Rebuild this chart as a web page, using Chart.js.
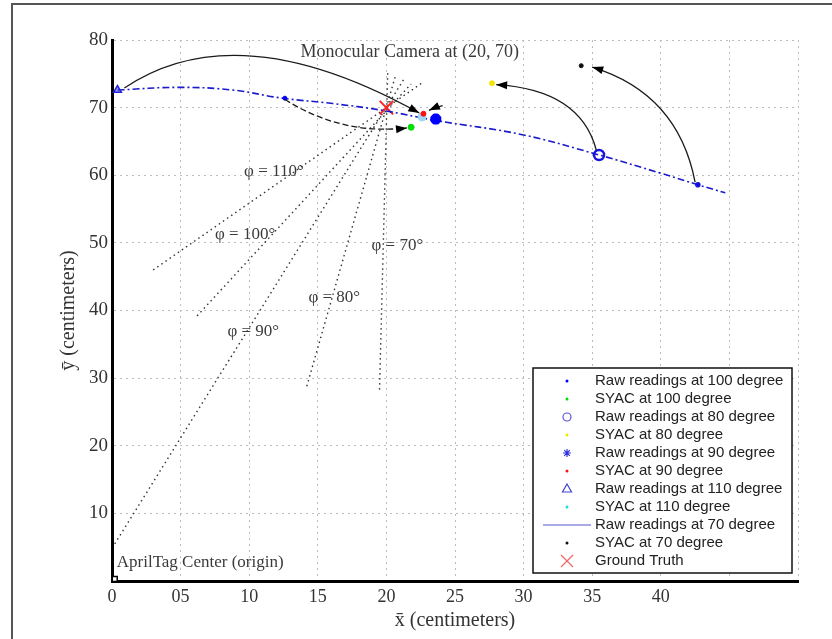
<!DOCTYPE html>
<html lang="en">
<head>
<meta charset="UTF-8">
<title>SYAC readings vs ground truth</title>
<script src="https://cdn.jsdelivr.net/npm/chart.js"></script>
<style>
  body { margin: 0; background: #fff; }
  canvas { display: block; }
</style>
</head>
<body>
<canvas id="syacChart" width="832" height="639"></canvas>
<script>
// readings in centimeters
const raw100 = [[12.6, 71.4]];
const syac100 = [[21.8, 67.1]];
const raw80 = [[35.5, 63.0]];
const syac80 = [[27.7, 73.6]];
const raw90 = [[23.6, 68.3]];
const syac90 = [[22.7, 69.1]];
const raw110 = [[0.4, 72.6]];
const syac110 = [[22.6, 68.6]];
const raw70X = [0.4, 4.9, 8.8, 12.4, 16.1, 19.7, 23.6, 29.9, 35.5, 40.0, 42.7, 44.7];
const raw70Y = [72.6, 73.0, 72.6, 71.4, 70.6, 69.6, 68.1, 66.0, 63.0, 60.3, 58.6, 57.4];
const raw70Reading = 10; // index of the marked raw reading on the 70 degree curve
const syac70 = [[34.2, 76.2]];
const groundTruth = [[20, 70]];
const origin = [[0.2, 0.3]];

// view angle rays through the camera
const phiAngles = [110, 100, 90, 80, 70];
const phiLow = [[3.0, 46.0], [6.2, 39.2], [0.2, 5.5], [14.2, 28.8], [19.5, 28.3]];
const phiHigh = [[22.7, 73.8], [21.8, 73.5], [21.3, 74.3], [20.7, 75.0], [20.1, 75.5]];
const phiLabelAt = [[11.8, 60.5], [9.7, 51.3], [10.3, 36.9], [16.2, 41.9], [20.8, 49.6]];

// arrows raw reading -> SYAC estimate (start, point half way, end)
const arrowFrom = [[0.9, 72.9], [12.6, 71.2], [35.3, 63.7], [42.5, 59.0], [24.1, 70.3]];
const arrowVia = [[10.4, 77.6], [16.9, 67.5], [32.9, 70.6], [40.0, 69.8], [23.6, 70.0]];
const arrowTo = [[22.4, 69.2], [21.5, 67.0], [28.0, 73.4], [35.0, 76.0], [23.1, 69.6]];
const arrowDashed = [false, true, false, false, false];

const xTickLabels = ['0', '05', '10', '15', '20', '25', '30', '35', '40', '', ''];
const yTickLabels = ['', '10', '20', '30', '40', '50', '60', '70', '80'];

const pts = arr => arr.map(p => ({x: p[0], y: p[1]}));
const serif = '"Liberation Serif", "DejaVu Serif", serif';

const datasets = [
  {label: 'Raw readings at 100 degree', data: pts(raw100), pointRadius: 2,
   backgroundColor: '#0000ff', borderColor: '#0000ff', mark: {style: 'dot', color: '#0000ff', r: 1.5}},
  {label: 'SYAC at 100 degree', data: pts(syac100), pointRadius: 3,
   backgroundColor: '#00dd00', borderColor: '#00dd00', mark: {style: 'dot', color: '#00dd00', r: 1.5}},
  {label: 'Raw readings at 80 degree', data: pts(raw80), pointRadius: 5, borderWidth: 2.5,
   backgroundColor: 'rgba(0,0,0,0)', borderColor: '#1515dd', mark: {style: 'circle', color: '#5555dd', r: 4}},
  {label: 'SYAC at 80 degree', data: pts(syac80), pointRadius: 2.5,
   backgroundColor: '#f2e600', borderColor: '#f2e600', mark: {style: 'dot', color: '#f2e600', r: 1.5}},
  {label: 'Raw readings at 90 degree', data: pts(raw90), pointStyle: 'star', pointRadius: 5.5, borderWidth: 4,
   backgroundColor: '#0000ff', borderColor: '#0000ff', mark: {style: 'star', color: '#3333dd', r: 4}},
  {label: 'SYAC at 90 degree', data: pts(syac90), pointRadius: 2.5,
   backgroundColor: '#ff1010', borderColor: '#ff1010', mark: {style: 'dot', color: '#ff1010', r: 1.5}},
  {label: 'Raw readings at 110 degree', data: pts(raw110), pointStyle: 'triangle', pointRadius: 4.5, borderWidth: 1.5,
   backgroundColor: 'rgba(60,60,230,0.5)', borderColor: '#2222dd', mark: {style: 'triangle', color: '#4444cc', r: 5}},
  {label: 'SYAC at 110 degree', data: pts(syac110), pointRadius: 4,
   backgroundColor: '#9fd8ee', borderColor: '#9fd8ee', mark: {style: 'dot', color: '#22dddd', r: 1.5}},
  {label: 'Raw readings at 70 degree', data: raw70X.map((x, i) => ({x: x, y: raw70Y[i]})),
   showLine: true, borderColor: '#1a1acc', backgroundColor: '#0000ff', borderWidth: 1.6,
   borderDash: [7, 3, 2, 3], tension: 0.4,
   pointRadius: raw70X.map((x, i) => i === raw70Reading ? 2 : 0),
   mark: {style: 'line', color: '#5555cc', r: 24}},
  {label: 'SYAC at 70 degree', data: pts(syac70), pointRadius: 2,
   backgroundColor: '#111', borderColor: '#111', mark: {style: 'dot', color: '#111', r: 1.5}},
  {label: 'Ground Truth', data: pts(groundTruth), pointStyle: 'crossRot', pointRadius: 9.5, borderWidth: 2,
   backgroundColor: '#ff2020', borderColor: '#ff2020', mark: {style: 'crossRot', color: '#ee6666', r: 6}},
  {label: 'origin', data: pts(origin), pointStyle: 'rect', pointRadius: 3.5, borderWidth: 1.5,
   backgroundColor: '#fff', borderColor: '#000'}
];

phiAngles.forEach((a, i) => {
  datasets.push({label: 'phi ' + a, data: pts([phiLow[i], phiHigh[i]]), showLine: true,
    borderColor: '#333', borderWidth: 1.4, borderDash: [1.5, 3.5], pointRadius: 0});
});

function drawMark(ctx, m, x, y) {
  ctx.save();
  ctx.strokeStyle = m.color;
  ctx.fillStyle = m.color;
  ctx.lineWidth = 1.2;
  ctx.beginPath();
  if (m.style === 'dot') {
    ctx.arc(x, y, m.r, 0, Math.PI * 2);
    ctx.fill();
  } else if (m.style === 'circle') {
    ctx.arc(x, y, m.r, 0, Math.PI * 2);
    ctx.stroke();
  } else if (m.style === 'triangle') {
    ctx.moveTo(x, y - m.r);
    ctx.lineTo(x + m.r * 0.9, y + m.r * 0.6);
    ctx.lineTo(x - m.r * 0.9, y + m.r * 0.6);
    ctx.closePath();
    ctx.stroke();
  } else if (m.style === 'star') {
    for (let k = 0; k < 4; k++) {
      const t = k * Math.PI / 4;
      ctx.moveTo(x - Math.cos(t) * m.r, y - Math.sin(t) * m.r);
      ctx.lineTo(x + Math.cos(t) * m.r, y + Math.sin(t) * m.r);
    }
    ctx.stroke();
  } else if (m.style === 'crossRot') {
    ctx.moveTo(x - m.r, y - m.r); ctx.lineTo(x + m.r, y + m.r);
    ctx.moveTo(x - m.r, y + m.r); ctx.lineTo(x + m.r, y - m.r);
    ctx.stroke();
  } else if (m.style === 'line') {
    ctx.moveTo(x - m.r, y); ctx.lineTo(x + m.r, y);
    ctx.stroke();
  }
  ctx.restore();
}

const annotate = {
  id: 'annotate',
  beforeDraw(chart) {
    const ctx = chart.ctx;
    ctx.save();
    ctx.fillStyle = '#fff';
    ctx.fillRect(0, 0, chart.width, chart.height);
    ctx.strokeStyle = '#555';
    ctx.lineWidth = 2;
    ctx.strokeRect(12, 4, chart.width, chart.height);
    ctx.restore();
  },
  afterDatasetsDraw(chart) {
    const ctx = chart.ctx;
    const sx = chart.scales.x, sy = chart.scales.y;
    const P = p => [sx.getPixelForValue(p[0]), sy.getPixelForValue(p[1])];
    ctx.save();
    // arrows
    arrowFrom.forEach((f, i) => {
      const a = P(f), m = P(arrowVia[i]), b = P(arrowTo[i]);
      const c = [2 * m[0] - (a[0] + b[0]) / 2, 2 * m[1] - (a[1] + b[1]) / 2];
      ctx.strokeStyle = '#1a1a1a';
      ctx.lineWidth = 1.3;
      ctx.setLineDash(arrowDashed[i] ? [6, 3] : []);
      ctx.beginPath();
      ctx.moveTo(a[0], a[1]);
      ctx.quadraticCurveTo(c[0], c[1], b[0], b[1]);
      ctx.stroke();
      ctx.setLineDash([]);
      const ang = Math.atan2(b[1] - c[1], b[0] - c[0]);
      const len = 11, half = 4;
      ctx.fillStyle = '#000';
      ctx.beginPath();
      ctx.moveTo(b[0], b[1]);
      ctx.lineTo(b[0] - len * Math.cos(ang) + half * Math.sin(ang), b[1] - len * Math.sin(ang) - half * Math.cos(ang));
      ctx.lineTo(b[0] - len * Math.cos(ang) - half * Math.sin(ang), b[1] - len * Math.sin(ang) + half * Math.cos(ang));
      ctx.closePath();
      ctx.fill();
    });
    // text notes
    ctx.fillStyle = '#3a3a3a';
    ctx.textBaseline = 'middle';
    ctx.font = '17px ' + serif;
    ctx.textAlign = 'center';
    phiAngles.forEach((a, i) => {
      const p = P(phiLabelAt[i]);
      ctx.fillText('\u03c6 = ' + a + '\u00b0', p[0], p[1]);
    });
    ctx.font = '18px ' + serif;
    let p = P([21.7, 78.2]);
    ctx.fillText('Monocular Camera at (20, 70)', p[0], p[1]);
    ctx.font = '17px ' + serif;
    ctx.textAlign = 'left';
    p = P([0.2, 2.7]);
    ctx.fillText('AprilTag Center (origin)', p[0] + 2, p[1]);
    ctx.restore();
  },
  afterDraw(chart) {
    const ctx = chart.ctx;
    const rows = chart.data.datasets.filter(d => d.mark);
    const box = {left: 533, top: 368, right: 792, bottom: 573};
    ctx.save();
    ctx.fillStyle = '#fff';
    ctx.fillRect(box.left, box.top, box.right - box.left, box.bottom - box.top);
    ctx.strokeStyle = '#111';
    ctx.lineWidth = 1.5;
    ctx.strokeRect(box.left, box.top, box.right - box.left, box.bottom - box.top);
    ctx.font = '15px "Liberation Sans", Arial, sans-serif';
    ctx.textBaseline = 'middle';
    ctx.textAlign = 'left';
    rows.forEach((d, i) => {
      const y = 381 + i * 18;
      drawMark(ctx, d.mark, 567, y);
      ctx.fillStyle = '#222';
      ctx.fillText(d.label, 595, y);
    });
    ctx.restore();
  }
};

const ctx = document.getElementById('syacChart').getContext('2d');
new Chart(ctx, {
  type: 'scatter',
  data: {datasets: datasets},
  options: {
    responsive: false,
    animation: false,
    layout: {padding: {top: 40, right: 34, left: 0, bottom: 0}},
    plugins: {legend: {display: false}, tooltip: {enabled: false}},
    scales: {
      x: {
        type: 'linear', min: 0, max: 50,
        afterFit: s => { s.height = 58; },
        grid: {color: '#bdbdbd', lineWidth: 1, drawTicks: false},
        border: {display: true, color: '#000', width: 3, dash: [2, 4]},
        ticks: {stepSize: 5, autoSkip: false, maxRotation: 0, padding: 5, color: '#333',
                font: {family: serif, size: 18},
                callback: (v, i) => xTickLabels[i]},
        title: {display: true, text: 'x\u0304 (centimeters)', color: '#333',
                font: {family: serif, size: 20}, padding: {top: 0, bottom: 6}}
      },
      y: {
        type: 'linear', min: 0, max: 80,
        afterFit: s => { s.width = 112; },
        grid: {color: '#bdbdbd', lineWidth: 1, drawTicks: false},
        border: {display: true, color: '#000', width: 3, dash: [2, 4]},
        ticks: {stepSize: 10, padding: 4, color: '#333',
                font: {family: serif, size: 19},
                callback: (v, i) => yTickLabels[i]},
        title: {display: true, text: 'y\u0304 (centimeters)', color: '#333',
                font: {family: serif, size: 20}, padding: {top: 57, bottom: 0}}
      }
    }
  },
  plugins: [annotate]
});
</script>
</body>
</html>
